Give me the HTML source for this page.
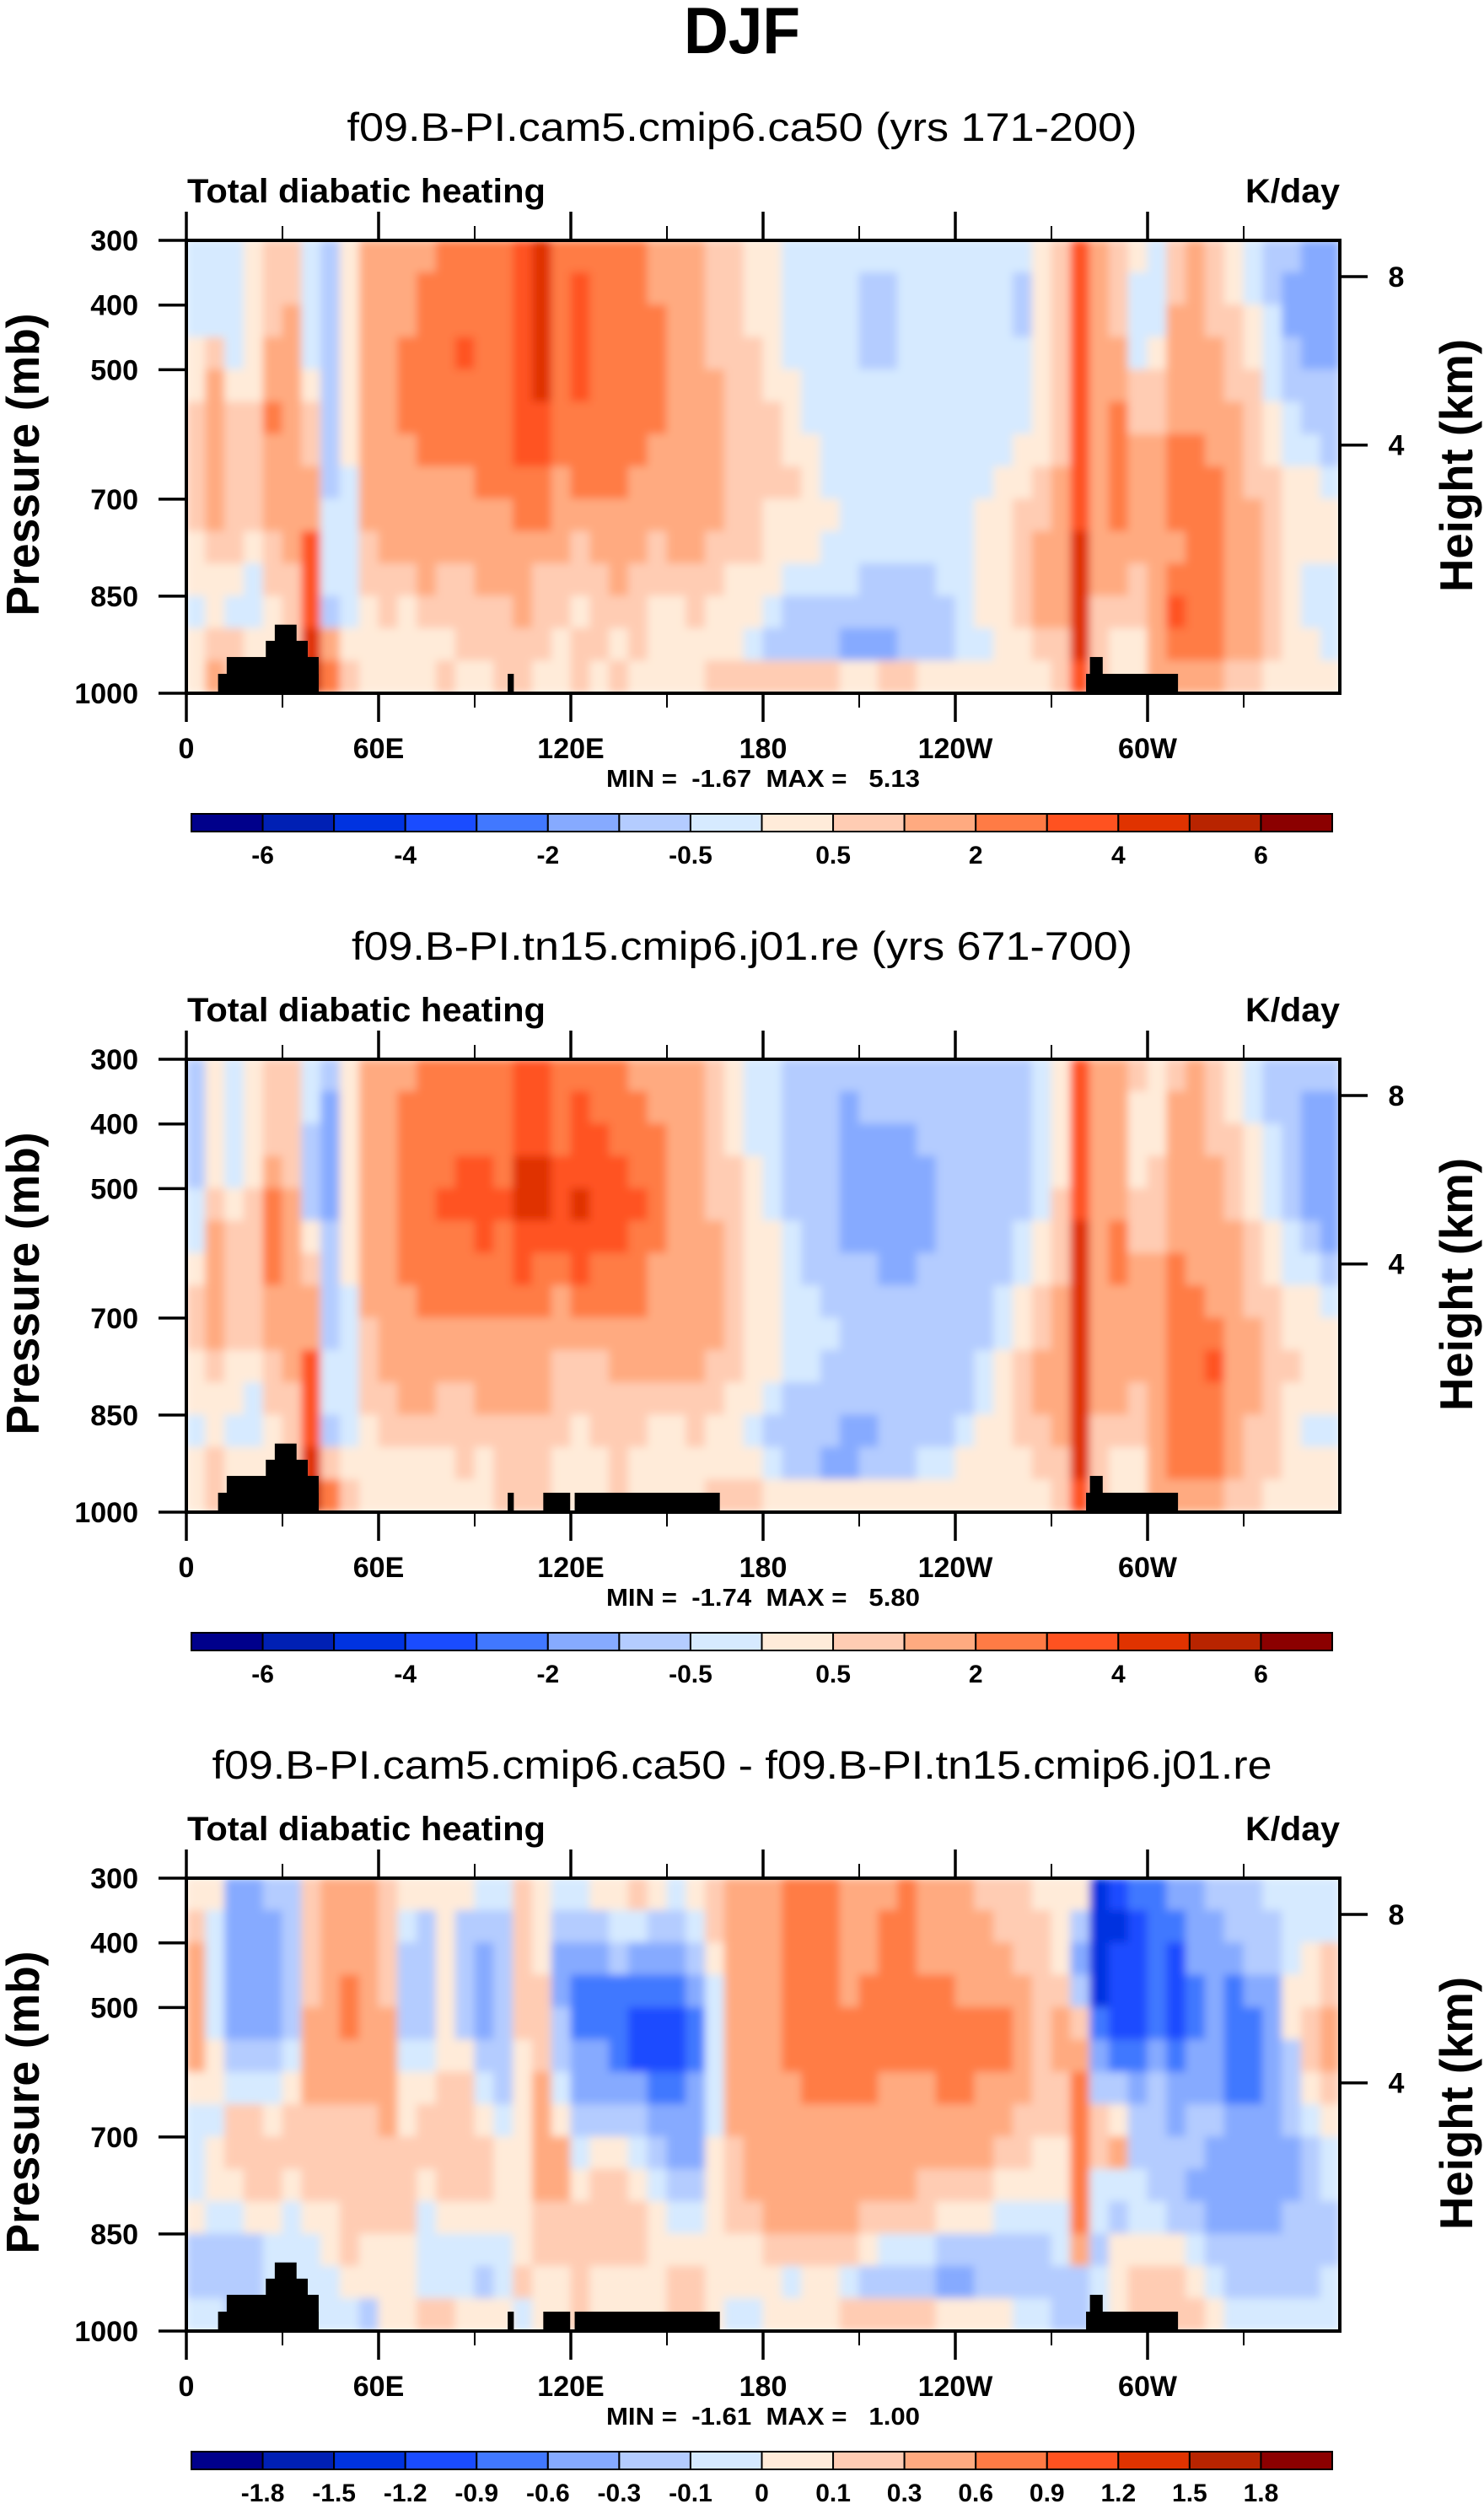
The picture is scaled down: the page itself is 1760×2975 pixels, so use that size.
<!DOCTYPE html>
<html><head><meta charset="utf-8"><title>DJF Total diabatic heating</title>
<style>
html,body{margin:0;padding:0;background:#fff;}
svg{display:block;font-family:"Liberation Sans",Arial,sans-serif;}
.pre{white-space:pre;}
</style></head>
<body>
<svg id="chart" xmlns="http://www.w3.org/2000/svg" width="1760" height="2975" viewBox="0 0 1760 2975">
<defs>
<filter id="soft" x="0" y="0" width="1" height="1"><feGaussianBlur stdDeviation="5" edgeMode="duplicate"/></filter>
</defs>
<text x="880" y="63" text-anchor="middle" font-size="78" font-weight="bold" textLength="138" lengthAdjust="spacingAndGlyphs">DJF</text>
</svg>
<script>
// ---- data ----
const lonTicks = [0, 60, 120, 180, 240, 300];
const lonTickLabels = ["0", "60E", "120E", "180", "120W", "60W"];
const lonMinorTicks = [30, 90, 150, 210, 270, 330];
const presTicks = [300, 400, 500, 700, 850, 1000];
const heightTicks = [8, 4];
const colors = ["#00008b","#0020b4","#0033e0","#1a4cff","#4178ff","#86aaff","#b4ccff","#d6eaff","#ffebd9","#ffccb3","#ffaa80","#ff7b45","#ff5220","#e03300","#b82400","#8b0000"];
const cbLabelsAbs = ["","-6","","-4","","-2","","-0.5","","0.5","","2","","4","","6"];
const cbLabelsDiff = ["-1.8","-1.5","-1.2","-0.9","-0.6","-0.3","-0.1","0","0.1","0.3","0.6","0.9","1.2","1.5","1.8"];
const subtitles = ["f09.B-PI.cam5.cmip6.ca50 (yrs 171-200)","f09.B-PI.tn15.cmip6.j01.re (yrs 671-700)","f09.B-PI.cam5.cmip6.ca50 - f09.B-PI.tn15.cmip6.j01.re"];
const subtitleLens = [937, 926, 1257];
const minVals = ["-1.67","-1.74","-1.61"];
const maxVals = ["5.13","5.80","1.00"];
// topography: [lon0, lon1, top pressure]
const topo1 = [[9.9,41.3,970],[12.6,41.3,944],[24.8,37.9,919],[27.6,34.4,894],[100.3,102.2,970],[280.8,309.5,970],[282,286,944]];
const topoExtra = [[111.4,119.8,970],[121.2,166.5,970]];
// column profiles (6 deg lon each, 14 levels of 50 mb from 300 to 1000), level index in hex
const p1Cols = ["77788999988788","7779aaaaa9889a","77778999998799","88888999987788","999aabaaa99888","99aaaaaaaa9999","7777899aacccde","666666667776ab","88888887777789","aaaaaaaaa99888",
"aaaaaaaaaa9988","aaabbbaaaa9888","abbbbbbaaaa988","bbbbbbbaaa9989","bbbcbbbaaa9998","bbbbbbbbaaa998","bbbbbbbbaaa999","cccccccbbaaa99","dddddccbba9998","bbbbbbbaaa9988",
"bccccbbba99899","bbbbbbbbaa9998","bbbbbbbbaaa989","bbbbbbbaaa9998","aabbbbaaa99888","aaaaaaaaaa9888","aaaaaaaaaa9988","9999aaaaa99889","99999999998889","88899999998879",
"88888999888769","77778889887669","77777788887669","77777777877669","77777777777658","76667777776658","76667777776659","77777777776669","77777777776668","77777777777668",
"77777777777778","77777777888878","77777778888888","76677788999988","888888899aaa98","9999999aaaaa99","cccccccccddddc","aaaaaaaaaaa999","999aabbbbaa988","877799aaaa9988",
"777899aaaaaaaa","99aaaabbbabcba","aaaaaabbbbbbba","999aaaabbbbbba","88999aaaaaaaa9","77889999aaaaa9","66777889999998","65566778888888","55556678887788","55556667887778"];
const p2Cols = ["66667789988788","88889aaaa98899","77778999988788","88889999987788","999abbbaa99888","9999aaaaaa9999","7766689aacccde","6555566667769b","88888887777789","aaaaaaaa999888",
"aaaaaaaaaa9988","abbbbbbaaaa988","bbbbbbbbaaa988","bbbbcbbbaa9988","bbbccbbbaa9998","bbbcccbbaaa988","bbbbcbbbaaa999","cccddccbaaa999","cccddcbbaaa999","bbbcccbaa99988",
"bcccdccba99888","bbccccbba99988","bbbcccbbaa9999","abbbcbbbaa9988","aabbbbaaaa9888","aaaaaaaaaa9888","aaaaaaaaaa9988","99999aaaa99889","88899999998889","77788888888789",
"77777888887678","66666777776668","66666667776668","66666666766658","65555566666558","66555566666568","66555556666668","66555556666668","66655566666678","66666666666678",
"66666666666788","66666666677888","66666667788888","66666778899988","777778899aa998","8888999aaaaa99","cccccddddddddc","aaaaaaaaaaa999","aaaaabbaaaa988","988899aaaa9988",
"888999aaaaaaaa","9aaaaabbbbbbba","aaaaaaabbbbbba","999aaaaabcbbba","88999aaaaaaaa9","77888999aaa999","66777889999998","66666778898888","65555678888788","65555567888788"];
const p3Cols = ["89aaaa87778667","87777887887667","55555679987666","55555679998666","65555678998777","66666789987777","9999aaa9998777","aaaaaaa9998877","aaabbaa9999987","aaaaaaa9999886",
"9999aaaa999888","87666788999888","86666789987779","88888899998779","86666899998778","76555678998768","76666667888778","99999888888897","888999aaaa9988","76556678aa9988",
"76544556789999","86544556899988","87644456899988","97543356789988","86543345678888","76543345567899","87654455567899","99877777888888","aaaaaaaa999887","aaaaaaaaaa9887",
"aaaaaaaaaaa988","bbbbbbaaaaa978","bbbbbbbaaaa988","bbbbbbbaaaa988","aaaabbbaaaa979","aaabbbbaaa9869","abbbbbaaaa9769","bbbbbbaaaa9769","aaabbbaaa99769","aaabbbbaa98658",
"aaaabbbaa98658","9aaabbaaa98668","99aabbaa987668","999aaaa9987667","89999999887667","8889aa99887766","86569abbbbba66","22224569977677","32333468a76888","43333456677899",
"44444566667899","54333455666899","55544556656789","65555556555678","66544445555667","66654445555667","76655555555667","77788666556667","77889987666667","7799aa98776677"];

// ---- layout ----
const NS = "http://www.w3.org/2000/svg";
const svg = document.getElementById("chart");
const PL = 221, PW = 1368, PH = 537;
const panelTops = [285, 1256, 2227];
const CB_L = 227, CB_W = 1353, CB_H = 21;
function el(tag, attrs, parent) {
  const e = document.createElementNS(NS, tag);
  for (const k in attrs) e.setAttribute(k, attrs[k]);
  (parent || svg).appendChild(e);
  return e;
}
function xOf(lon) { return PL + lon / 360 * PW; }
function yOf(top, p) { return top + (p - 300) / 700 * PH; }
function hToP(z) { return 1013.25 * Math.pow(1 - 2.25577e-5 * z * 1000, 5.25588); }

const panelsCols = [p1Cols, p2Cols, p3Cols];
panelsCols.forEach((cols, k) => {
  const top = panelTops[k];
  const off = top - 285;
  const g = el("g", {});
  
  
  const st = el("text", {x: 880, y: 167 + off, "text-anchor": "middle", "font-size": 47, textLength: subtitleLens[k], lengthAdjust: "spacingAndGlyphs"}, g);
  st.textContent = subtitles[k];
  
  
  const lt = el("text", {x: 222, y: 240 + off, "font-size": 40, "font-weight": "bold", textLength: 425, lengthAdjust: "spacingAndGlyphs"}, g);
  lt.textContent = "Total diabatic heating";
  
  
  const ut = el("text", {x: 1589, y: 240 + off, "font-size": 40, "font-weight": "bold", "text-anchor": "end", textLength: 112, lengthAdjust: "spacingAndGlyphs"}, g);
  ut.textContent = "K/day";
  
  
  const clipId = "clip" + k;
  const cp = el("clipPath", {id: clipId}, g);
  el("rect", {x: PL, y: top, width: PW, height: PH}, cp);
  const cg = el("g", {"clip-path": "url(#" + clipId + ")"}, g);
  const fg = el("g", {filter: "url(#soft)"}, cg);
  
  
  const nRows = cols[0].length;
  cols.forEach((s, i) => {
    const x0 = xOf(i * 360 / cols.length), x1 = xOf((i + 1) * 360 / cols.length);
    for (let j = 0; j < nRows; j++) {
      const lev = parseInt(s[j], 16);
      const p0 = 300 + j * 700 / nRows, p1 = 300 + (j + 1) * 700 / nRows;
      const r = el("rect", {x: x0 - 0.5, y: yOf(top, p0) - 0.5, width: x1 - x0 + 1, height: yOf(top, p1) - yOf(top, p0) + 1, fill: colors[lev]}, fg);
      
      
    }
  });
  const topo = k === 0 ? topo1 : topo1.concat(topoExtra);
  topo.forEach(t => {
    const r = el("rect", {x: xOf(t[0]), y: yOf(top, t[2]), width: xOf(t[1]) - xOf(t[0]), height: yOf(top, 1000) - yOf(top, t[2]) + 1, fill: "#000"}, cg);
    
    
  });
  const fr = el("rect", {x: PL, y: top, width: PW, height: PH, fill: "none", stroke: "#000", "stroke-width": 4}, g);
  
  
  lonTicks.forEach((lon, i) => {
    const x = xOf(lon);
    el("line", {x1: x, x2: x, y1: top - 34, y2: top, stroke: "#000", "stroke-width": 3.5}, g);
    el("line", {x1: x, x2: x, y1: top + PH, y2: top + PH + 34, stroke: "#000", "stroke-width": 3.5}, g);
    const t = el("text", {x: x, y: 899 + off, "text-anchor": "middle", "font-size": 34, "font-weight": "bold"}, g);
    t.textContent = lonTickLabels[i];
    
    
  });
  lonMinorTicks.forEach(lon => {
    const x = xOf(lon);
    el("line", {x1: x, x2: x, y1: top - 17, y2: top, stroke: "#000", "stroke-width": 2}, g);
    el("line", {x1: x, x2: x, y1: top + PH, y2: top + PH + 17, stroke: "#000", "stroke-width": 2}, g);
  });
  presTicks.forEach(p => {
    const y = yOf(top, p);
    el("line", {x1: PL - 33, x2: PL, y1: y, y2: y, stroke: "#000", "stroke-width": 3.5}, g);
    const t = el("text", {x: 164, y: y + 12, "text-anchor": "end", "font-size": 34, "font-weight": "bold"}, g);
    t.textContent = String(p);
    
    
  });
  heightTicks.forEach(z => {
    const y = yOf(top, hToP(z));
    el("line", {x1: PL + PW, x2: PL + PW + 33, y1: y, y2: y, stroke: "#000", "stroke-width": 3.5}, g);
    const t = el("text", {x: 1656, y: y + 12, "text-anchor": "middle", "font-size": 34, "font-weight": "bold"}, g);
    t.textContent = String(z);
    
    
  });
  const ya = el("text", {x: 0, y: 0, "text-anchor": "middle", "font-size": 55, "font-weight": "bold", transform: "translate(46," + (551 + off) + ") rotate(-90)", textLength: 359, lengthAdjust: "spacingAndGlyphs"}, g);
  ya.textContent = "Pressure (mb)";
  
  
  const ha = el("text", {x: 0, y: 0, "text-anchor": "middle", "font-size": 55, "font-weight": "bold", transform: "translate(1746," + (552 + off) + ") rotate(-90)", textLength: 300, lengthAdjust: "spacingAndGlyphs"}, g);
  ha.textContent = "Height (km)";
  
  
  const mm = el("text", {x: 905, y: 933 + off, "text-anchor": "middle", "font-size": 29, "font-weight": "bold", "class": "pre", textLength: 372, lengthAdjust: "spacingAndGlyphs"}, g);
  mm.textContent = "MIN =  " + minVals[k] + "  MAX =   " + maxVals[k];
  
  
  const cbY = 965 + off;
  const bw = CB_W / colors.length;
  const cb = el("g", {}, g);
  
  
  colors.forEach((c, i) => {
    const r = el("rect", {x: CB_L + i * bw, y: cbY, width: bw, height: CB_H, fill: c, stroke: "#000", "stroke-width": 2}, cb);
    
    
  });
  const labs = k === 2 ? cbLabelsDiff : cbLabelsAbs.slice(1);
  labs.forEach((s, i) => {
    if (!s) return;
    const t = el("text", {x: CB_L + (i + 1) * bw, y: cbY + 59, "text-anchor": "middle", "font-size": 30, "font-weight": "bold"}, cb);
    t.textContent = s;
    
    
  });
});
</script>
</body></html>
